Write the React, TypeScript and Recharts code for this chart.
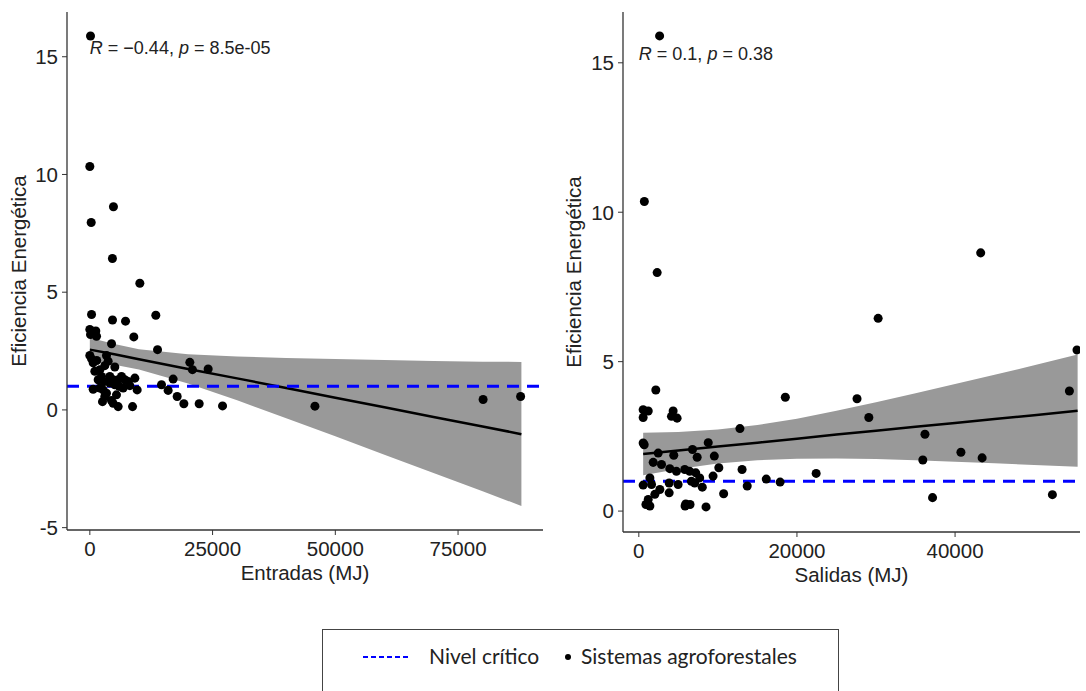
import React from 'react';
import {
  ComposedChart,
  Scatter,
  Area,
  Line,
  XAxis,
  YAxis,
  ReferenceLine,
  ReferenceDot
} from 'recharts';

// Panel A: Entradas (MJ) vs eficiencia energética
const entradas = [
  140, 0, 280, 4810, 4600, 10185, 350, 4620, 7270, 13440, 0, 1220, 140, 1360, 8960, 4420, 13790,
  0, 350, 20370, 20900, 24100, 16970, 14600, 15950, 17790, 19150, 22270, 27030, 45850, 80100,
  87740, 9170, 9640, 8700, 5770, 4750, 2580, 680, 2040, 1020, 3050, 3390, 3730, 5090, 2380, 4070,
  4750, 6450, 7130, 7810, 8150, 680, 2040, 2720, 3390, 4070, 5090, 5970, 6790, 5430, 3050, 4410,
  1700, 5770, 1400, 2900
];
const eficienciaEntradas = [
  15.88, 10.34, 7.96, 8.63, 6.43, 5.38, 4.05, 3.82, 3.77, 4.02, 3.42, 3.35, 3.2, 3.13, 3.1, 2.81, 2.56,
  2.31, 2.17, 2.02, 1.71, 1.74, 1.31, 1.07, 0.83, 0.57, 0.26, 0.26, 0.17, 0.16, 0.44,
  0.57, 1.35, 0.85, 0.14, 0.14, 0.28, 0.35, 2.0, 1.71, 1.64, 1.88, 2.31, 2.07, 1.82, 1.42, 1.42,
  1.28, 1.42, 1.28, 1.21, 1.03, 0.88, 0.93, 0.85, 0.71, 1.14, 1.07, 1.0, 0.93, 0.64, 0.57, 0.4,
  1.28, 1.28, 2.1, 1.2
];

// Panel B: Salidas (MJ) vs eficiencia energética
const salidas = [
  2630, 700, 2320, 43240, 30270, 55420, 54460, 2150, 18530, 27600, 29090, 550, 1190, 550, 4340,
  4130, 4840, 12790, 36190, 550, 680, 40740, 43420, 35920, 8780, 9550, 10120, 13060, 22430, 16120,
  17870, 13710, 10730, 37150, 52310, 8500, 2450, 6790, 7380, 4420, 1820, 2870, 3920, 4760, 5810,
  6440, 7200, 7700, 9390, 549, 1400, 1610, 2660, 2030, 3840, 3840, 4970, 6650, 7070, 8030, 1190,
  1400, 900, 5940, 6480, 5850
];
const eficienciaSalidas = [
  15.9, 10.36, 7.98, 8.64, 6.45, 5.39, 4.02, 4.05, 3.81, 3.76, 3.13, 3.39, 3.35, 3.13, 3.35,
  3.17, 3.11, 2.76, 2.57, 2.28, 2.22, 1.97, 1.78, 1.71, 2.29, 1.84, 1.45, 1.39, 1.26, 1.07,
  0.97, 0.84, 0.58, 0.45, 0.55, 0.14, 1.94, 2.06, 1.8, 1.87, 1.63, 1.56, 1.42, 1.33, 1.39,
  1.33, 1.28, 1.11, 1.17, 0.87, 1.11, 0.89, 0.72, 0.56, 0.94, 0.61, 0.89, 1.0, 0.94, 0.8, 0.39,
  0.17, 0.22, 0.24, 0.22, 0.17
];

// regression line + confidence band
const ajusteEntradasX = [0, 5000, 10000, 20000, 30000, 40000, 50000, 60000, 70000, 80000, 87900];
const ajusteEntradas = [2.56, 2.36, 2.15, 1.74, 1.34, 0.93, 0.52, 0.11, -0.3, -0.7, -1.03];
const bandaEntradasInf = [2.02, 1.92, 1.72, 1.12, 0.41, -0.35, -1.12, -1.9, -2.68, -3.45, -4.08];
const bandaEntradasSup = [3.06, 2.8, 2.58, 2.36, 2.27, 2.21, 2.16, 2.12, 2.08, 2.05, 2.04];

const ajusteSalidasX = [550, 5000, 10000, 15000, 20000, 25000, 30000, 35000, 40000, 45000, 50000, 55500];
const ajusteSalidas = [1.91, 2.03, 2.16, 2.29, 2.42, 2.56, 2.69, 2.82, 2.95, 3.08, 3.21, 3.36];
const bandaSalidasInf = [1.2, 1.41, 1.59, 1.7, 1.75, 1.76, 1.74, 1.7, 1.65, 1.6, 1.54, 1.48];
const bandaSalidasSup = [2.62, 2.65, 2.73, 2.88, 3.09, 3.36, 3.64, 3.94, 4.25, 4.56, 4.88, 5.24];

const ticksEntradas = [0, 25000, 50000, 75000];
const ticksSalidas = [0, 20000, 40000];
const ticksEficienciaA = [-5, 0, 5, 10, 15];
const ticksEficienciaB = [0, 5, 10, 15];

const NIVEL_CRITICO = 1;
const FONT = 'Liberation Sans, Arial, sans-serif';
const TEXT = '#222';
const TICK_SIZE = 20.5;
const TITLE_SIZE = 20.5;

const toPoints = (xs: number[], ys: number[]) => xs.map((x, i) => ({ x, y: ys[i] }));
const toBand = (xs: number[], fit: number[], lo: number[], hi: number[]) =>
  xs.map((x, i) => ({ x, fit: fit[i], band: [lo[i], hi[i]] }));

const yTitle = (text: string, dx: number) => (props: any) => {
  const vb = props.viewBox || { x: 0, y: 0, width: 0, height: 0 };
  const cx = vb.x + dx;
  const cy = vb.y + vb.height / 2;
  return (
    <text
      x={cx}
      y={cy}
      transform={`rotate(-90, ${cx}, ${cy})`}
      textAnchor="middle"
      dominantBaseline="central"
      fontFamily={FONT}
      fontSize={TITLE_SIZE}
      fill={TEXT}
    >
      {text}
    </text>
  );
};

const statLabel = (r: string, p: string) => (props: any) => {
  const vb = props.viewBox || { x: 0, y: 0 };
  return (
    <text x={vb.x} y={vb.y} fontFamily={FONT} fontSize={18} fill={TEXT}>
      <tspan fontStyle="italic">R</tspan>
      <tspan> = {r}, </tspan>
      <tspan fontStyle="italic">p</tspan>
      <tspan> = {p}</tspan>
    </text>
  );
};

interface PanelProps {
  width: number;
  points: { x: number; y: number }[];
  band: { x: number; fit: number; band: number[] }[];
  xDomain: number[];
  xTicks: number[];
  yDomain: number[];
  yTicks: number[];
  xLabel: string;
  yAxisWidth: number;
  rightMargin: number;
  bottomMargin: number;
  yTitleX: number;
  stat: [string, string];
  statY: number;
}

const Panel: React.FC<PanelProps> = (p) => (
  <ComposedChart
    width={p.width}
    height={600}
    data={p.band}
    margin={{ top: 12, right: p.rightMargin, bottom: p.bottomMargin, left: 0 }}
    style={{ fontFamily: FONT }}
  >
    <XAxis
      type="number"
      dataKey="x"
      domain={p.xDomain}
      ticks={p.xTicks}
      interval={0}
      allowDataOverflow
      height={30}
      tickSize={5}
      tickMargin={6}
      axisLine={{ stroke: '#333', strokeWidth: 1.3 }}
      tickLine={{ stroke: '#333' }}
      tick={{ fill: TEXT, fontSize: TICK_SIZE, fontFamily: FONT }}
      label={{ value: p.xLabel, position: 'bottom', offset: 5, fill: TEXT, fontSize: TITLE_SIZE, fontFamily: FONT }}
    />
    <YAxis
      type="number"
      domain={p.yDomain}
      ticks={p.yTicks}
      interval={0}
      allowDataOverflow
      width={p.yAxisWidth}
      tickSize={5}
      tickMargin={4}
      axisLine={{ stroke: '#333', strokeWidth: 1.3 }}
      tickLine={{ stroke: '#333' }}
      tick={{ fill: TEXT, fontSize: TICK_SIZE, fontFamily: FONT }}
      label={yTitle('Eficiencia Energética', p.yTitleX)}
    />
    <Area
      dataKey="band"
      stroke="none"
      fill="#999999"
      fillOpacity={1}
      isAnimationActive={false}
      activeDot={false}
    />
    <Line dataKey="fit" stroke="#000" strokeWidth={2.5} dot={false} isAnimationActive={false} />
    <Scatter data={p.points} dataKey="y" fill="#000" isAnimationActive={false} />
    <ReferenceLine y={NIVEL_CRITICO} stroke="#0000FF" strokeWidth={3} strokeDasharray="12 8" />
    <ReferenceDot x={0} y={p.statY} r={0} fill="none" stroke="none" label={statLabel(p.stat[0], p.stat[1])} />
  </ComposedChart>
);

const App: React.FC = () => {
  const ptsA = toPoints(entradas, eficienciaEntradas);
  const ptsB = toPoints(salidas, eficienciaSalidas);
  const bandA = toBand(ajusteEntradasX, ajusteEntradas, bandaEntradasInf, bandaEntradasSup);
  const bandB = toBand(ajusteSalidasX, ajusteSalidas, bandaSalidasInf, bandaSalidasSup);

  return (
    <div style={{ position: 'absolute', left: 0, top: 0, width: 1086, height: 691, background: '#fff', overflow: 'hidden' }}>
      <div style={{ position: 'absolute', left: 0, top: 0 }}>
        <Panel
          width={545}
          points={ptsA}
          band={bandA}
          xDomain={[-4650, 92300]}
          xTicks={ticksEntradas}
          yDomain={[-5.1, 16.9]}
          yTicks={ticksEficienciaA}
          xLabel="Entradas (MJ)"
          yAxisWidth={67}
          rightMargin={2}
          bottomMargin={40}
          yTitleX={18}
          stat={['\u22120.44', '8.5e-05']}
          statY={15.1}
        />
      </div>
      <div style={{ position: 'absolute', left: 545, top: 0 }}>
        <Panel
          width={541}
          points={ptsB}
          band={bandB}
          xDomain={[-2000, 55800]}
          xTicks={ticksSalidas}
          yDomain={[-0.7, 16.7]}
          yTicks={ticksEficienciaB}
          xLabel="Salidas (MJ)"
          yAxisWidth={78}
          rightMargin={6}
          bottomMargin={38}
          yTitleX={28}
          stat={['0.1', '0.38']}
          statY={15.1}
        />
      </div>

      {/* legend box, cut off at the bottom like the original */}
      <div
        style={{
          position: 'absolute',
          left: 322,
          top: 629,
          width: 515,
          height: 62,
          border: '1.5px solid #444',
          borderBottom: 'none',
          fontFamily: 'Lato, "Open Sans", sans-serif',
          fontSize: 21,
          color: TEXT
        }}
      >
        <svg style={{ position: 'absolute', left: 40, top: 24 }} width={48} height={6}>
          <line x1={0} y1={3} x2={48} y2={3} stroke="#0000FF" strokeWidth={2} strokeDasharray="5 3" />
        </svg>
        <span style={{ position: 'absolute', left: 106, top: 13, lineHeight: '26px' }}>Nivel crítico</span>
        <svg style={{ position: 'absolute', left: 241, top: 23 }} width={8} height={8}>
          <circle cx={4} cy={4} r={3} fill="#000" />
        </svg>
        <span style={{ position: 'absolute', left: 258, top: 13, lineHeight: '26px' }}>Sistemas agroforestales</span>
      </div>
    </div>
  );
};

export default App;
